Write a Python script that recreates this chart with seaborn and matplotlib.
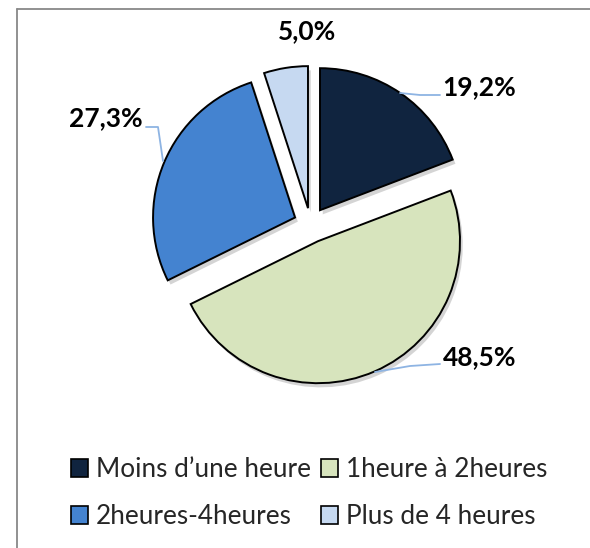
import matplotlib
matplotlib.use("Agg")
import matplotlib.pyplot as plt
import matplotlib.patheffects as pe
from matplotlib.patches import Patch
from matplotlib.lines import Line2D
import seaborn as sns

# Time spent: share of respondents per duration class
categories = ["Moins d\u2019une heure", "1heure \u00e0 2heures", "2heures-4heures", "Plus de 4 heures"]
shares = [19.2, 48.5, 27.3, 5.0]
colors = ["#10243F", "#D7E4BD", "#4483D0", "#C6D9F1"]
explode = [0.118, 0.132, 0.118, 0.113]

sns.set_theme(style="white")
plt.rcParams["font.family"] = ["Lato", "DejaVu Sans"]

W, H = 590, 548
fig = plt.figure(figsize=(W / 100, H / 100), dpi=100)
ax = fig.add_axes([0, 0, 1, 1])

# pie centre and radius in pixels; axes limits map one data unit to R pixels
CX, CY, R = 310.5, 224.0, 142.0


def px(x, y):
    return (x - CX) / R, (CY - y) / R


wedges, _ = ax.pie(
    shares,
    colors=colors,
    explode=explode,
    startangle=90,
    counterclock=False,
    radius=1.0,
    center=(0, 0),
    wedgeprops=dict(edgecolor="black", linewidth=1.4),
    frame=True,
)
ax.set_xlim(-CX / R, (W - CX) / R)
ax.set_ylim(-(H - CY) / R, CY / R)
ax.set_aspect("auto")
ax.axis("off")
for w in wedges:
    w.set_path_effects([
        pe.SimplePatchShadow(offset=(2, -3), shadow_rgbFace="#555555", alpha=0.25),
        pe.Normal(),
    ])

# value labels with their leader lines
label_pos = [(479, 87), (480, 357), (106, 118), (307, 31)]
leaders = [
    [(400, 93), (420, 95), (440, 95)],
    [(375, 372), (410, 366), (440, 364)],
    [(146, 127), (158, 127), (163, 161)],
    None,
]
for val, (lx, ly), lead in zip(shares, label_pos, leaders):
    if lead is not None:
        xs, ys = zip(*[px(a, b) for a, b in lead])
        ax.plot(xs, ys, color="#8EB4E3", lw=1.3, zorder=1)
    ax.text(*px(lx, ly), f"{val:.1f}%".replace(".", ","), ha="center", va="center",
            fontsize=19, fontweight="bold", color="black")

# legend laid out row by row (matplotlib fills columns first)
order = [0, 2, 1, 3]
handles = [Patch(facecolor=colors[i], edgecolor="black", linewidth=1.2) for i in order]
fig.legend(
    handles, [categories[i] for i in order],
    loc="upper left", bbox_to_anchor=(71 / W, 1 - 457 / H),
    ncol=2, frameon=False, fontsize=18.8,
    handlelength=0.65, handleheight=0.65, handletextpad=0.3,
    columnspacing=0.4, labelspacing=0.85,
    borderpad=0, borderaxespad=0,
)

# chart border (left and top edges fall inside the canvas)
fig.add_artist(Line2D([16.5 / W, 16.5 / W], [0, 1 - 9 / H], transform=fig.transFigure,
                      color="#888888", lw=1.3))
fig.add_artist(Line2D([16.5 / W, 1], [1 - 9 / H, 1 - 9 / H], transform=fig.transFigure,
                      color="#888888", lw=1.3))

fig.savefig("out.png", dpi=100, facecolor="white")
